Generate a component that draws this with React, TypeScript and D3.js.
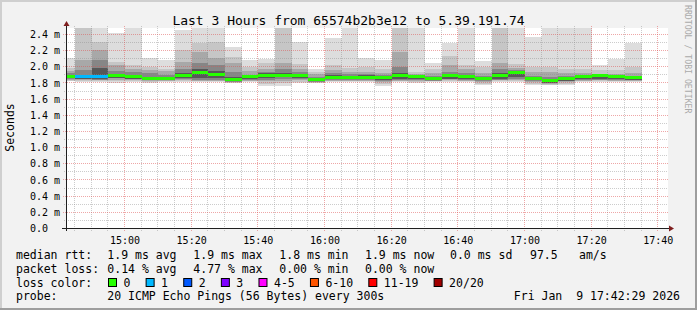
import React from "react";
import * as d3 from "d3";

const W = 697;
const H = 310;
const START = "14:42:29";
const END = "17:42:29";

const barEnds = [
  "14:45", "14:50", "14:55", "15:00", "15:05", "15:10", "15:15", "15:20", "15:25", "15:30",
  "15:35", "15:40", "15:45", "15:50", "15:55", "16:00", "16:05", "16:10", "16:15", "16:20",
  "16:25", "16:30", "16:35", "16:40", "16:45", "16:50", "16:55", "17:00", "17:05", "17:10",
  "17:15", "17:20", "17:25", "17:30", "17:35",
];

// median rtt (ms)
const medianMs = [
  1.880, 1.876, 1.876, 1.888, 1.880, 1.859, 1.859, 1.888, 1.925, 1.909,
  1.847, 1.876, 1.895, 1.888, 1.888, 1.847, 1.872, 1.872, 1.863, 1.872,
  1.888, 1.880, 1.859, 1.888, 1.876, 1.859, 1.888, 1.925, 1.859, 1.826,
  1.859, 1.880, 1.888, 1.876, 1.863,
];
// lost pings out of 20
const lossCount = [
  0, 1, 1, 0, 0, 0, 0, 0, 0, 0, 0, 0, 0, 0, 0, 0, 0, 0, 0, 0,
  0, 0, 0, 0, 0, 0, 0, 0, 0, 0, 0, 0, 0, 0, 0,
];
// smoke: outermost band (min .. max ping)
const pingMax = [
  2.103, 2.6, 2.6, 2.412, 2.6, 2.103, 2.082, 2.453, 2.6, 2.6,
  2.247, 2.082, 2.095, 2.6, 2.309, 1.979, 2.358, 2.6, 2.103, 2.082,
  2.6, 2.6, 2.049, 2.289, 2.6, 2.07, 2.6, 2.6, 2.37, 2.6,
  2.6, 2.6, 2.02, 2.091, 2.289,
];
const pingHi2 = [
  1.99, 2.55, 2.309, 2.061, 2.02, 1.999, 1.979, 2.206, 2.289, 2.309,
  2.123, 1.999, 2.041, 2.55, 2.03, 1.937, 2.02, 1.99, 1.999, 1.979,
  2.55, 1.937, 1.979, 2.132, 2.02, 1.999, 2.55, 2.04, 1.999, 1.999,
  1.979, 1.979, 1.958, 1.958, 1.999,
];
const pingHi3 = [
  1.95, 2.082, 2.206, 2.02, 1.979, 1.958, 1.946, 2.061, 2.185, 2.103,
  2.041, 1.946, 1.979, 2.041, 1.979, 1.909, 1.958, 1.937, 1.937, 1.918,
  2.185, 1.909, 1.918, 2.02, 1.979, 1.925, 2.041, 1.99, 1.937, 1.937,
  1.925, 1.918, 1.909, 1.909, 1.918,
];
const pingHi4 = [
  1.92, 1.958, 2.082, 1.946, 1.937, 1.918, 1.90, 1.979, 2.041, 2.02,
  1.937, 1.90, 1.937, 1.979, 1.937, 1.88, 1.918, 1.91, 1.91, 1.895,
  1.999, 1.895, 1.89, 1.937, 1.918, 1.89, 1.979, 1.958, 1.884, 1.876,
  1.884, 1.897, 1.897, 1.895, 1.89,
];
const pingHi5 = [
  1.90, 1.897, 1.98, 1.91, 1.90, 1.88, 1.875, 1.918, 1.979, 1.95,
  1.876, 1.888, 1.918, 1.918, 1.91, 1.862, 1.895, 1.89, 1.897, 1.885,
  1.925, 1.89, 1.875, 1.905, 1.895, 1.875, 1.925, 1.94, 1.87, 1.85,
  1.87, 1.89, 1.893, 1.885, 1.875,
];
const pingLo5 = [
  1.86, 1.85, 1.845, 1.865, 1.855, 1.845, 1.845, 1.86, 1.856, 1.856,
  1.822, 1.85, 1.856, 1.868, 1.86, 1.82, 1.845, 1.85, 1.845, 1.84,
  1.843, 1.845, 1.838, 1.85, 1.85, 1.835, 1.85, 1.87, 1.835, 1.801,
  1.83, 1.843, 1.85, 1.845, 1.84,
];
const pingLo4 = [
  1.85, 1.845, 1.84, 1.856, 1.845, 1.838, 1.835, 1.845, 1.84, 1.84,
  1.815, 1.84, 1.84, 1.85, 1.845, 1.814, 1.835, 1.84, 1.838, 1.825,
  1.835, 1.835, 1.83, 1.843, 1.84, 1.825, 1.84, 1.85, 1.83, 1.795,
  1.826, 1.835, 1.84, 1.838, 1.835,
];
const pingLo3 = [
  1.84, 1.835, 1.835, 1.84, 1.835, 1.83, 1.83, 1.835, 1.826, 1.83,
  1.808, 1.83, 1.82, 1.83, 1.835, 1.808, 1.826, 1.83, 1.83, 1.814,
  1.826, 1.826, 1.825, 1.835, 1.83, 1.81, 1.835, 1.835, 1.815, 1.79,
  1.81, 1.826, 1.835, 1.83, 1.828,
];
const pingLo2 = [
  1.83, 1.825, 1.825, 1.82, 1.825, 1.815, 1.82, 1.825, 1.82, 1.82,
  1.80, 1.82, 1.79, 1.80, 1.81, 1.80, 1.82, 1.82, 1.822, 1.79,
  1.82, 1.815, 1.82, 1.825, 1.82, 1.79, 1.825, 1.825, 1.79, 1.78,
  1.79, 1.82, 1.825, 1.822, 1.82,
];
const pingMin = [
  1.822, 1.814, 1.814, 1.801, 1.814, 1.801, 1.814, 1.814, 1.814, 1.814,
  1.794, 1.814, 1.76, 1.764, 1.794, 1.794, 1.814, 1.81, 1.814, 1.764,
  1.814, 1.801, 1.814, 1.814, 1.814, 1.773, 1.814, 1.814, 1.773, 1.773,
  1.773, 1.814, 1.814, 1.814, 1.814,
];

const xTickLabels = ["15:00", "15:20", "15:40", "16:00", "16:20", "16:40", "17:00", "17:20", "17:40"];
const yTickValues = [0, 0.2, 0.4, 0.6, 0.8, 1.0, 1.2, 1.4, 1.6, 1.8, 2.0, 2.2, 2.4];
const yTickLabels = ["0.0", "0.2 m", "0.4 m", "0.6 m", "0.8 m", "1.0 m", "1.2 m", "1.4 m", "1.6 m", "1.8 m", "2.0 m", "2.2 m", "2.4 m"];

const lossLabels = ["0", "1", "2", "3", "4-5", "6-10", "11-19", "20/20"];
const lossColors = ["#26ff00", "#00b8ff", "#0059ff", "#7e00ff", "#ff00ff", "#ff5500", "#ff0000", "#a10000"];

const legendRtt = ["1.9 ms avg", "1.9 ms max", "1.8 ms min", "1.9 ms now", "0.0 ms sd", "97.5", "am/s"];
const legendLoss = ["0.14 % avg", "4.77 % max", "0.00 % min", "0.00 % now"];
const probeText = "20 ICMP Echo Pings (56 Bytes) every 300s";
const dateText = "Fri Jan\u00a0\u00a09 17:42:29 2026";
const titleText = "Last 3 Hours from 65574b2b3e12 to 5.39.191.74";

const MONO = "'DejaVu Sans Mono', monospace";

const toMin = (s: string) => {
  const p = s.split(":").map(Number);
  return p[0] * 60 + p[1] + (p[2] || 0) / 60;
};

function lossIndex(l: number) {
  if (l <= 0) return 0;
  if (l === 1) return 1;
  if (l === 2) return 2;
  if (l === 3) return 3;
  if (l <= 5) return 4;
  if (l <= 10) return 5;
  if (l <= 19) return 6;
  return 7;
}

export default function App() {
  const plotL = 66.1;
  const plotR = 666.1;
  const plotT = 28;
  const plotB = 228.5;
  const x = d3.scaleLinear().domain([toMin(START), toMin(END)]).range([plotL, plotR]);
  const y = d3.scaleLinear().domain([0, 2.48]).range([plotB, plotT]);

  const bandDefs: [number[], number[], string][] = [
    [pingMin, pingMax, "#dddddd"],
    [pingLo2, pingHi2, "#c6c6c6"],
    [pingLo3, pingHi3, "#a8a8a8"],
    [pingLo4, pingHi4, "#868686"],
    [pingLo5, pingHi5, "#585858"],
  ];

  const px = (t: number) => Math.round(x(t) + 0.5);
  const bars = barEnds.map((e, i) => {
    const end = toMin(e);
    const x0 = Math.max(px(end - 5), px(toMin(START)));
    const x1 = px(end);
    return { i, x0, x1 };
  });

  const snap = (v: number) => Math.round(v - 0.5) + 0.5;

  const vMinor = d3.range(toMin("14:45"), toMin("17:40") + 0.01, 5);
  const vMajor = xTickLabels.map(toMin);
  const hMinor = d3.range(0.1, 2.41, 0.1).filter((v) => Math.abs(v / 0.2 - Math.round(v / 0.2)) > 0.01);

  const lossSwatches: { sx: number; tx: number }[] = [];
  let cur = 108.5;
  lossLabels.forEach((lab) => {
    lossSwatches.push({ sx: cur, tx: cur + 15 });
    cur = cur + 15 + lab.length * 6.92 + 15.7;
  });

  const rttX = [107.3, 193.3, 279.3, 365, 450, 530, 579];
  const rowY = [259, 272.5, 286.5, 299.5];

  return (
    <svg width={W} height={H} style={{ position: "fixed", left: 0, top: 0, display: "block" }}
      fontFamily={MONO}>
      <defs>
        <clipPath id="plotClip">
          <rect x={67} y={plotT} width={601} height={plotB - plotT} />
        </clipPath>
      </defs>
      <rect x={0} y={0} width={W} height={H} fill="#f2f2f2" />
      {/* shade frame */}
      <rect x={0} y={0} width={W} height={2} fill="#cfcfcf" />
      <rect x={0} y={0} width={2} height={H} fill="#cfcfcf" />
      <rect x={0} y={H - 2} width={W} height={2} fill="#9e9e9e" />
      <rect x={W - 2} y={0} width={2} height={H} fill="#9e9e9e" />
      {/* canvas */}
      <rect x={67} y={plotT} width={601} height={plotB - plotT} fill="#ffffff" />

      {/* smoke */}
      <g clipPath="url(#plotClip)">
        {bandDefs.map(([lo, hi, col], k) => (
          <g key={k}>
            {bars.map((b) => {
              const top = Math.round(y(hi[b.i]));
              const bot = Math.round(y(lo[b.i]));
              return <rect key={b.i} x={b.x0} y={top} width={b.x1 - b.x0} height={Math.max(0, bot - top)} fill={col} />;
            })}
          </g>
        ))}
      </g>

      {/* grid */}
      <g fill="none" strokeWidth={1} strokeDasharray="1,1">
        {vMinor.filter((t) => !vMajor.some((m) => Math.abs(m - t) < 0.01)).map((t) => (
          <line key={"vm" + t} x1={snap(x(t))} x2={snap(x(t))} y1={26} y2={231} stroke="rgba(143,143,143,0.45)" />
        ))}
        {hMinor.map((v) => (
          <line key={"hm" + v} x1={64} x2={668} y1={snap(y(v))} y2={snap(y(v))} stroke="rgba(143,143,143,0.45)" />
        ))}
        {vMajor.map((t) => (
          <line key={"vM" + t} x1={snap(x(t))} x2={snap(x(t))} y1={26} y2={231} stroke="rgba(222,79,79,0.5)" />
        ))}
        {yTickValues.slice(1).map((v) => (
          <line key={"hM" + v} x1={63} x2={668} y1={snap(y(v))} y2={snap(y(v))} stroke="rgba(222,79,79,0.5)" />
        ))}
      </g>

      {/* median lines */}
      <g clipPath="url(#plotClip)">
        {bars.map((b) => {
          const yc = y(medianMs[b.i]);
          return (
            <rect key={b.i} x={b.x0} y={Math.round(yc - 1.5)} width={b.x1 - b.x0} height={3}
              fill={lossColors[lossIndex(lossCount[b.i])]} />
          );
        })}
      </g>

      {/* axes */}
      <line x1={62} x2={670} y1={228.5} y2={228.5} stroke="#1f1f1f" />
      <line x1={66.5} x2={66.5} y1={231} y2={25} stroke="#1f1f1f" />
      <path d="M669,225.5 L674,228.5 L669,231.5 Z" fill="#7f1f1f" />
      <path d="M63.5,26 L66.5,21 L69.5,26 Z" fill="#7f1f1f" />

      {/* y tick labels */}
      {yTickValues.map((v, i) => (
        <text key={"yl" + i} x={30} y={y(v) + 3.6} fontSize={10} fill="#000">{yTickLabels[i]}</text>
      ))}
      {/* x tick labels */}
      {xTickLabels.map((l) => (
        <text key={"xl" + l} x={x(toMin(l)) + 0.5} y={244} fontSize={10} textAnchor="middle" fill="#000">{l}</text>
      ))}

      {/* title */}
      <text x={348.5} y={25} fontSize={13} textAnchor="middle" fill="#000">{titleText}</text>
      {/* y axis title */}
      <text transform="translate(13.5,127.5) rotate(-90)" fontSize={11.5} textAnchor="middle" fill="#000">Seconds</text>
      {/* watermark */}
      <text transform="translate(685,5) rotate(90)" fontSize={8.2} fill="#aaaaaa">RRDTOOL / TOBI OETIKER</text>

      {/* legend */}
      <g fontSize={11.5} fill="#000">
        <text x={16} y={rowY[0]}>median rtt:</text>
        {legendRtt.map((s, i) => (
          <text key={"r" + i} x={rttX[i]} y={rowY[0]}>{s}</text>
        ))}
        <text x={16} y={rowY[1]}>packet loss:</text>
        {legendLoss.map((s, i) => (
          <text key={"l" + i} x={rttX[i]} y={rowY[1]}>{s}</text>
        ))}
        <text x={16} y={rowY[2]}>loss color:</text>
        {lossLabels.map((lab, i) => (
          <g key={"lc" + i}>
            <rect x={lossSwatches[i].sx} y={278.5} width={8} height={8} fill={lossColors[i]} stroke="#000" strokeWidth={1} />
            <text x={lossSwatches[i].tx} y={rowY[2]}>{lab}</text>
          </g>
        ))}
        <text x={16} y={rowY[3]}>probe:</text>
        <text x={107.3} y={rowY[3]}>{probeText}</text>
        <text x={680} y={rowY[3]} textAnchor="end">{dateText}</text>
      </g>
    </svg>
  );
}
